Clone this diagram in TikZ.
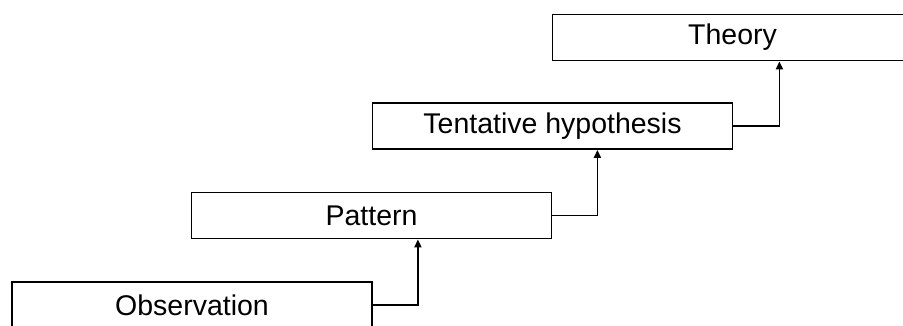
\documentclass[tikz,border=0pt]{standalone}
\usepackage{fontspec}
\setmainfont{Liberation Sans}
\usetikzlibrary{arrows.meta}
\begin{document}
\begin{tikzpicture}[x=1pt,y=1pt,
  box/.style={draw=black, line width=1.8pt, minimum width=360pt, minimum height=46pt, inner sep=0pt,
    font=\fontsize{28.5}{30}\selectfont, text=black},
  conn/.style={draw=black, line width=1.8pt, -{Triangle[length=8pt,width=7pt]}}]
\useasboundingbox (0,0) rectangle (903,-325);
\clip (0,0) rectangle (903,-325);
\node[box] (obs) at (192,-305) {Observation};
\node[box] (pat) at (371.5,-215.5) {Pattern};
\node[box] (hyp) at (552.5,-126) {Tentative hypothesis};
\node[box] (the) at (732.5,-37.5) {Theory};
\coordinate (c1) at ([xshift=45pt]obs.east);
\coordinate (c2) at ([xshift=45pt]pat.east);
\coordinate (c3) at ([xshift=46pt]hyp.east);
\draw[conn] (obs.east) -- (c1) -- (c1 |- pat.south);
\draw[conn] (pat.east) -- (c2) -- (c2 |- hyp.south);
\draw[conn] (hyp.east) -- (c3) -- (c3 |- the.south);
\end{tikzpicture}
\end{document}
